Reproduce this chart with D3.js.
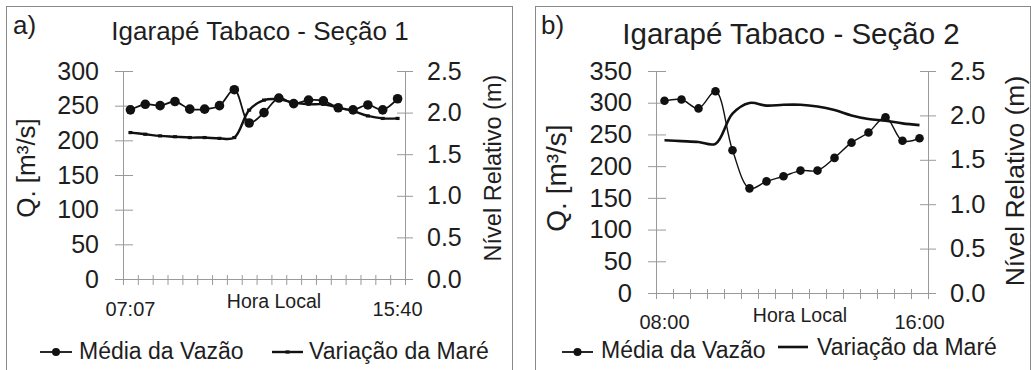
<!DOCTYPE html>
<html>
<head>
<meta charset="utf-8">
<script src="https://cdn.jsdelivr.net/npm/d3@7"></script>
<style>
body { margin: 0; background: #fff; }
svg { display: block; font-family: "Liberation Sans", Arial, sans-serif; }
</style>
</head>
<body>
<svg width="1031" height="370"></svg>
<script>
// Seção 1 (painel a)
const amostrasA = [1, 2, 3, 4, 5, 6, 7, 8, 9, 10, 11, 12, 13, 14, 15, 16, 17, 18, 19];
const vazaoA = [244, 252, 250, 256, 245, 245, 250, 273, 225, 240, 261, 253, 258, 257, 247, 244, 251, 244, 260];
const mareA = [1.76, 1.74, 1.72, 1.71, 1.70, 1.70, 1.69, 1.70, 2.03, 2.15, 2.16, 2.12, 2.10, 2.10, 2.06, 2.02, 1.96, 1.93, 1.93];
const horasA = ['07:07', '15:40']; // primeira e última amostra
const qTicksA = [0, 50, 100, 150, 200, 250, 300];

// Seção 2 (painel b)
const amostrasB = [1, 2, 3, 4, 5, 6, 7, 8, 9, 10, 11, 12, 13, 14, 15, 16];
const vazaoB = [303, 305, 291, 318, 225, 165, 176, 184, 193, 193, 213, 237, 253, 277, 240, 244];
const mareB = [1.72, 1.71, 1.70, 1.68, 2.02, 2.14, 2.11, 2.12, 2.12, 2.10, 2.06, 2.00, 1.96, 1.94, 1.91, 1.89];
const horasB = ['08:00', '16:00'];
const qTicksB = [0, 50, 100, 150, 200, 250, 300, 350];

const nivelTicks = [0, 0.5, 1.0, 1.5, 2.0, 2.5];

const svg = d3.select('svg');
const ink = '#1e1e1e';
const axisGray = '#9a9a9a';

function txt(g, s, x, y, size, opts = {}) {
    const t = g.append('text')
        .attr('x', x).attr('y', y)
        .attr('font-size', size)
        .attr('fill', ink)
        .attr('text-anchor', opts.anchor || 'start')
        .text(s);
    if (opts.rotate) t.attr('transform', `rotate(-90,${x},${y})`).attr('dy', '0.36em');
    return t;
}

function drawPanel(p) {
    const g = svg.append('g');

    g.append('rect')
        .attr('x', p.box[0] + 0.5).attr('y', 6.5)
        .attr('width', p.box[1] - p.box[0]).attr('height', 400)
        .attr('fill', 'none').attr('stroke', '#8a8a8a');

    const x = d3.scaleBand().domain(p.cats).range([p.x0, p.x1]);
    const xEdge = d3.scaleLinear().domain([0, p.cats.length]).range([p.x0, p.x1]);
    const y = d3.scaleLinear().domain([0, p.qMax]).range([p.yB, p.yT]);
    const y2 = d3.scaleLinear().domain([0, 2.5]).range([p.yB, p.yT]);
    const cx = c => x(c) + x.bandwidth() / 2;

    // eixo x (marcas nas divisas das categorias)
    const gx = g.append('g').attr('transform', `translate(0,${p.yB})`)
        .call(d3.axisBottom(xEdge).tickValues(d3.range(p.cats.length + 1)).tickFormat('').tickSizeOuter(0));
    gx.selectAll('.tick line').attr('y1', -4).attr('y2', 6);

    const gy = g.append('g').attr('transform', `translate(${p.x0},0)`)
        .call(d3.axisLeft(y).tickValues(p.qTicks).tickFormat(d3.format('d')).tickSizeOuter(0));
    gy.selectAll('.tick line').attr('x1', 10).attr('x2', -8);
    gy.selectAll('.tick text').attr('x', -24).attr('font-size', p.tickSize);

    const gy2 = g.append('g').attr('transform', `translate(${p.x1},0)`)
        .call(d3.axisRight(y2).tickValues(nivelTicks).tickFormat(d3.format('.1f')).tickSizeOuter(0));
    gy2.selectAll('.tick line').attr('x1', -8).attr('x2', 8);
    gy2.selectAll('.tick text').attr('x', 22).attr('font-size', p.tickSize);

    [gx, gy, gy2].forEach(a => {
        a.attr('font-family', null).attr('font-size', null);
        a.selectAll('path, line').attr('stroke', axisGray);
        a.selectAll('text').attr('fill', ink);
    });

    // rótulos de hora
    txt(g, p.horas[0], cx(p.cats[0]), p.hy, 20, { anchor: 'middle' });
    txt(g, p.horas[1], cx(p.cats[p.cats.length - 1]), p.hy, 20, { anchor: 'middle' });
    txt(g, 'Hora Local', p.hl[0], p.hl[1], 19.5, { anchor: 'middle' });

    // títulos
    txt(g, p.letra, p.letraPos[0], p.letraPos[1], 26);
    txt(g, p.titulo, p.tit[0], p.tit[1], p.tit[2], { anchor: 'middle' });
    txt(g, 'Q. [m³/s]', p.ql[0], p.ql[1], p.ql[2], { anchor: 'middle', rotate: true });
    txt(g, 'Nível Relativo (m)', p.nl[0], p.nl[1], p.nl[2], { anchor: 'middle', rotate: true });

    // maré
    const lineMare = d3.line()
        .x((d, i) => cx(p.cats[i]))
        .y(d => y2(d))
        .curve(d3.curveCatmullRom);
    g.append('path').datum(p.mare)
        .attr('d', lineMare)
        .attr('fill', 'none').attr('stroke', '#111')
        .attr('stroke-width', p.mareWidth);
    if (p.mareMarks) {
        g.selectAll('.mm').data(p.mare).enter().append('rect')
            .attr('x', (d, i) => cx(p.cats[i]) - 2)
            .attr('y', d => y2(d) - 1.6)
            .attr('width', 4).attr('height', 3.2)
            .attr('fill', '#111');
    }

    // vazão
    const lineVazao = d3.line()
        .x((d, i) => cx(p.cats[i]))
        .y(d => y(d))
        .curve(d3.curveCatmullRom);
    g.append('path').datum(p.vazao)
        .attr('d', lineVazao)
        .attr('fill', 'none').attr('stroke', '#111')
        .attr('stroke-width', p.vazaoWidth);
    g.selectAll('.vz').data(p.vazao).enter().append('circle')
        .attr('cx', (d, i) => cx(p.cats[i]))
        .attr('cy', d => y(d))
        .attr('r', p.r)
        .attr('fill', '#111');

    // legenda
    const l = p.leg;
    g.append('line').attr('x1', l.v[0]).attr('x2', l.v[1]).attr('y1', l.v[2]).attr('y2', l.v[2])
        .attr('stroke', '#111').attr('stroke-width', 1.8);
    g.append('circle').attr('cx', (l.v[0] + l.v[1]) / 2).attr('cy', l.v[2]).attr('r', 4).attr('fill', '#111');
    txt(g, 'Média da Vazão', l.vt[0], l.vt[1], l.size);
    g.append('line').attr('x1', l.m[0]).attr('x2', l.m[1]).attr('y1', l.m[2]).attr('y2', l.m[2])
        .attr('stroke', '#111').attr('stroke-width', p.mareWidth);
    if (p.mareMarks) {
        g.append('rect').attr('x', (l.m[0] + l.m[1]) / 2 - 2).attr('y', l.m[2] - 1.6)
            .attr('width', 4).attr('height', 3.2).attr('fill', '#111');
    }
    txt(g, 'Variação da Maré', l.mt[0], l.mt[1], l.size);
}

drawPanel({
    box: [6, 512], x0: 123, x1: 405, yT: 71, yB: 279,
    cats: amostrasA, vazao: vazaoA, mare: mareA, horas: horasA,
    qMax: 300, qTicks: qTicksA, tickSize: 25,
    hy: 316, hl: [274, 308],
    letra: 'a)', letraPos: [13, 34],
    titulo: 'Igarapé Tabaco - Seção 1', tit: [260, 40, 26],
    ql: [26, 168, 26], nl: [493, 168, 23.5],
    mareWidth: 2.4, mareMarks: true, vazaoWidth: 1.8, r: 4.8,
    leg: { v: [40, 72, 352], vt: [79, 359, 23], m: [272, 303, 352], mt: [309, 359], size: 23 }
});

drawPanel({
    box: [535, 1030], x0: 656, x1: 928, yT: 71, yB: 293,
    cats: amostrasB, vazao: vazaoB, mare: mareB, horas: horasB,
    qMax: 350, qTicks: qTicksB, tickSize: 25.5,
    hy: 329, hl: [800, 322],
    letra: 'b)', letraPos: [541, 34],
    titulo: 'Igarapé Tabaco - Seção 2', tit: [791, 44, 29.5],
    ql: [556, 178, 28], nl: [1014, 181, 26.5],
    mareWidth: 2.6, mareMarks: false, vazaoWidth: 1.4, r: 4.3,
    leg: { v: [562, 593, 352], vt: [601, 358], m: [778, 808, 347], mt: [817, 355], size: 23 }
});
</script>
</body>
</html>
